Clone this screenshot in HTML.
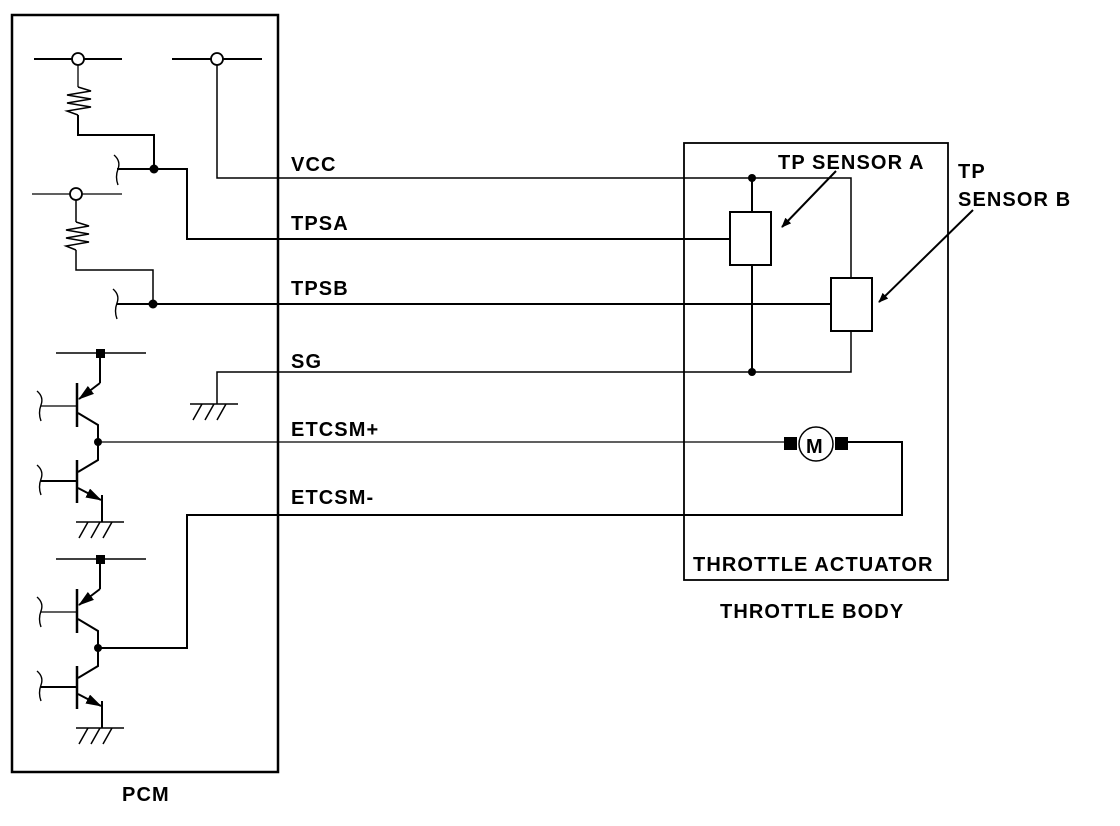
<!DOCTYPE html>
<html><head><meta charset="utf-8"><style>
html,body{margin:0;padding:0;background:#fff;}
svg{display:block;}
text{font-family:"Liberation Sans",Arial,sans-serif;font-weight:bold;font-size:20px;letter-spacing:1.1px;fill:#000;}
</style></head><body>
<svg width="1120" height="826" viewBox="0 0 1120 826" xmlns="http://www.w3.org/2000/svg">
<defs>
<marker id="ah" markerWidth="10" markerHeight="8" refX="9" refY="4" orient="auto" markerUnits="userSpaceOnUse"><path d="M0,0 L10,4 L0,8 Z" fill="#000"/></marker>
<marker id="ah2" markerWidth="16" markerHeight="10" refX="15" refY="5" orient="auto" markerUnits="userSpaceOnUse"><path d="M0,0 L16,5 L0,10 Z" fill="#000"/></marker>
<g id="pair" fill="none" stroke="#000" stroke-width="2">
  <line x1="56" y1="353" x2="146" y2="353" stroke-width="1.5"/>
  <rect x="96" y="349" width="9" height="9" fill="#000" stroke="none"/>
  <line x1="100" y1="353" x2="100" y2="383"/>
  <line x1="100" y1="383" x2="79" y2="399" marker-end="url(#ah2)"/>
  <line x1="77" y1="383" x2="77" y2="427" stroke-width="2.5"/>
  <line x1="41" y1="406" x2="77" y2="406" stroke-width="1.3"/>
  <path d="M37,391 q7,6 4,14 q-3,8 0,16" stroke-width="1.4"/>
  <polyline points="78,413 98,425 98,460 78,472"/>
  <circle cx="98" cy="442" r="4" fill="#000" stroke="none"/>
  <line x1="77" y1="460" x2="77" y2="503" stroke-width="2.5"/>
  <line x1="41" y1="481" x2="77" y2="481"/>
  <path d="M37,465 q7,6 4,14 q-3,8 0,16" stroke-width="1.4"/>
  <line x1="78" y1="488" x2="101" y2="500" marker-end="url(#ah2)"/>
  <line x1="102" y1="495" x2="102" y2="522"/>
  <line x1="76" y1="522" x2="124" y2="522" stroke-width="1.5"/>
  <path d="M88,522 l-9,16 M100,522 l-9,16 M112,522 l-9,16" stroke-width="1.5"/>
</g>
</defs>
<g fill="none" stroke="#000" stroke-width="2">
  <rect x="12" y="15" width="266" height="757" stroke-width="2.5"/>
  <rect x="684" y="143" width="264" height="437" stroke-width="1.8"/>
  <line x1="34" y1="59" x2="122" y2="59" stroke-width="2"/>
  <line x1="172" y1="59" x2="262" y2="59" stroke-width="2"/>
  <line x1="78" y1="65" x2="78" y2="87" stroke-width="1.3"/>
  <path d="M78,87 L91,91 L67,95 L91,99 L67,103 L91,107 L67,111 L78,115" stroke-width="1.5"/>
  <polyline points="78,115 78,135 154,135 154,169"/>
  <path d="M114,155 q7,6 4,14 q-3,8 0,16" stroke-width="1.4"/>
  <polyline points="117,169 187,169 187,239 730,239"/>
  <polyline points="217,65 217,178 851,178 851,278" stroke-width="1.5"/>
  <line x1="32" y1="194" x2="122" y2="194" stroke-width="1.3"/>
  <line x1="76" y1="200" x2="76" y2="222" stroke-width="1.5"/>
  <path d="M76,222 L89,226 L66,230 L89,234 L66,238 L89,242 L66,246 L76,250" stroke-width="1.5"/>
  <polyline points="76,250 76,270 153,270 153,304" stroke-width="1.5"/>
  <path d="M113,289 q7,6 4,14 q-3,8 0,16" stroke-width="1.4"/>
  <line x1="117" y1="304" x2="831" y2="304"/>
  <polyline points="217,404 217,372 851,372 851,331" stroke-width="1.5"/>
  <line x1="190" y1="404" x2="238" y2="404" stroke-width="1.5"/>
  <path d="M202,404 l-9,16 M214,404 l-9,16 M226,404 l-9,16" stroke-width="1.5"/>
  <line x1="752" y1="178" x2="752" y2="212"/>
  <line x1="752" y1="265" x2="752" y2="372"/>
  <rect x="730" y="212" width="41" height="53"/>
  <rect x="831" y="278" width="41" height="53"/>
  <line x1="98" y1="442" x2="784" y2="442" stroke-width="1.3"/>
  <polyline points="848,442 902,442 902,515 187,515 187,648 98,648" stroke-width="2"/>
  <circle cx="816" cy="444" r="17" stroke-width="1.5"/>
  <line x1="836" y1="171" x2="782" y2="227" stroke-width="2" marker-end="url(#ah)"/>
  <line x1="973" y1="210" x2="879" y2="302" stroke-width="2" marker-end="url(#ah)"/>
</g>
<circle cx="154" cy="169" r="4.5"/>
<circle cx="153" cy="304" r="4.5"/>
<circle cx="752" cy="178" r="4"/>
<circle cx="752" cy="372" r="4"/>
<circle cx="78" cy="59" r="6" fill="#fff" stroke="#000" stroke-width="1.8"/>
<circle cx="217" cy="59" r="6" fill="#fff" stroke="#000" stroke-width="1.8"/>
<circle cx="76" cy="194" r="6" fill="#fff" stroke="#000" stroke-width="1.8"/>
<rect x="784" y="437" width="13" height="13"/>
<rect x="835" y="437" width="13" height="13"/>
<use href="#pair"/>
<use href="#pair" transform="translate(0,206)"/>
<text x="806" y="453" font-size="22" letter-spacing="0">M</text>
<text x="291" y="171">VCC</text>
<text x="291" y="230">TPSA</text>
<text x="291" y="295">TPSB</text>
<text x="291" y="368">SG</text>
<text x="291" y="436">ETCSM+</text>
<text x="291" y="504">ETCSM-</text>
<text x="778" y="169">TP SENSOR A</text>
<text x="958" y="178">TP</text>
<text x="958" y="206">SENSOR B</text>
<text x="693" y="571">THROTTLE ACTUATOR</text>
<text x="720" y="618">THROTTLE BODY</text>
<text x="122" y="801">PCM</text>
</svg>
</body></html>
